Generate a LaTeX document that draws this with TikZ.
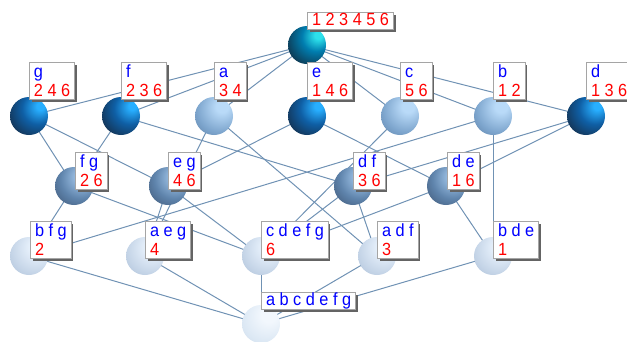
\documentclass[tikz,border=0pt]{standalone}
\usepackage{fontspec}
\usepackage{graphicx}
\setmainfont{Liberation Sans}
\usetikzlibrary{shadows}

% colours
\definecolor{edgecol}{RGB}{112,146,180}
\definecolor{framecol}{RGB}{165,165,165}
\definecolor{shadowcol}{RGB}{100,100,100}
\definecolor{intentcol}{RGB}{0,0,255}
\definecolor{extentcol}{RGB}{255,0,0}

% ball colours: highlight, middle, rim
\definecolor{topA}{RGB}{45,225,235}
\definecolor{topB}{RGB}{0,125,175}
\definecolor{topC}{RGB}{20,32,48}
\definecolor{attA}{RGB}{40,175,255}
\definecolor{attB}{RGB}{15,95,165}
\definecolor{attC}{RGB}{22,32,48}
\definecolor{lgtA}{RGB}{185,218,248}
\definecolor{lgtB}{RGB}{125,165,205}
\definecolor{lgtC}{RGB}{65,95,132}
\definecolor{midA}{RGB}{160,196,232}
\definecolor{midB}{RGB}{95,132,172}
\definecolor{midC}{RGB}{42,58,84}
\definecolor{palA}{RGB}{230,240,251}
\definecolor{palB}{RGB}{195,211,230}
\definecolor{palC}{RGB}{145,168,195}
\definecolor{botA}{RGB}{242,247,253}
\definecolor{botB}{RGB}{220,232,244}
\definecolor{botC}{RGB}{185,202,222}

\pgfdeclareradialshading{topball}{\pgfpoint{16bp}{14bp}}{color(0bp)=(topA); color(5bp)=(topA); color(19bp)=(topB); color(44bp)=(topC); color(80bp)=(topC)}
\pgfdeclareradialshading{attball}{\pgfpoint{16bp}{14bp}}{color(0bp)=(attA); color(5bp)=(attA); color(21bp)=(attB); color(46bp)=(attC); color(80bp)=(attC)}
\pgfdeclareradialshading{lgtball}{\pgfpoint{12bp}{14bp}}{color(0bp)=(lgtA); color(8bp)=(lgtA); color(30bp)=(lgtB); color(60bp)=(lgtC); color(80bp)=(lgtC)}
\pgfdeclareradialshading{midball}{\pgfpoint{12bp}{14bp}}{color(0bp)=(midA); color(6bp)=(midA); color(26bp)=(midB); color(56bp)=(midC); color(80bp)=(midC)}
\pgfdeclareradialshading{palball}{\pgfpoint{12bp}{14bp}}{color(0bp)=(palA); color(10bp)=(palA); color(32bp)=(palB); color(62bp)=(palC); color(80bp)=(palC)}
\pgfdeclareradialshading{botball}{\pgfpoint{12bp}{14bp}}{color(0bp)=(botA); color(10bp)=(botA); color(32bp)=(botB); color(62bp)=(botC); color(80bp)=(botC)}

\pgfdeclarelayer{edges}
\pgfsetlayers{edges,main}

\newcommand\lblfont{\fontsize{16.3}{19.5}\selectfont}
% label text, slightly taller than wide
\newcommand\lbltext[2]{\textcolor{#1}{\scalebox{1}[1.08]{#2}}}
% two-line label: intent on top, extent below
\newcommand\twoline[2]{{\def\arraystretch{0}\begin{tabular}{@{}l@{}}\rule[-4pt]{0pt}{18.5pt}\lbltext{intentcol}{#1}\\\rule[-3pt]{0pt}{18.5pt}\lbltext{extentcol}{#2}\end{tabular}}}
% one-line label
\newcommand\oneline[2]{\rule[-4.5pt]{0pt}{17pt}\lbltext{#1}{#2}}

\tikzset{
  ball/.style={circle, minimum size=38pt, inner sep=0pt},
  edge/.style={draw=edgecol, line width=1pt},
  lbl/.style={draw=framecol, fill=white, line width=1pt, anchor=north west,
    inner xsep=4.5pt, inner ysep=0pt, font=\lblfont,
    drop shadow={shadow xshift=2pt, shadow yshift=-2pt, fill=shadowcol, opacity=1}}
}

\begin{document}
\begin{tikzpicture}[x=1pt, y=-1pt]
\useasboundingbox (0,0) rectangle (627,341);

% concepts
\node[ball, shading=topball] (top) at (307,45) {};
\node[ball, shading=attball] (g) at (29,116) {};
\node[ball, shading=attball] (f) at (121,116) {};
\node[ball, shading=lgtball] (a) at (214,116) {};
\node[ball, shading=attball] (e) at (307,116) {};
\node[ball, shading=lgtball] (c) at (400,116) {};
\node[ball, shading=lgtball] (b) at (493,116) {};
\node[ball, shading=attball] (d) at (586,116) {};
\node[ball, shading=midball] (fg) at (74,186) {};
\node[ball, shading=midball] (eg) at (168,186) {};
\node[ball, shading=midball] (df) at (353,186) {};
\node[ball, shading=midball] (de) at (446,186) {};
\node[ball, shading=palball] (bfg) at (29,256) {};
\node[ball, shading=palball] (aeg) at (145,256) {};
\node[ball, shading=palball] (cdefg) at (261,256) {};
\node[ball, shading=palball] (adf) at (377,256) {};
\node[ball, shading=palball] (bde) at (493,256) {};
\node[ball, shading=botball] (bot) at (261,324) {};

% covering relations
\begin{pgfonlayer}{edges}
\foreach \u in {g,f,a,e,c,b,d} \draw[edge] (top.center) -- (\u.center);
\draw[edge] (g.center) -- (fg.center);
\draw[edge] (f.center) -- (fg.center);
\draw[edge] (g.center) -- (eg.center);
\draw[edge] (e.center) -- (eg.center);
\draw[edge] (f.center) -- (df.center);
\draw[edge] (d.center) -- (df.center);
\draw[edge] (e.center) -- (de.center);
\draw[edge] (d.center) -- (de.center);
\draw[edge] (fg.center) -- (bfg.center);
\draw[edge] (b.center) -- (bfg.center);
\draw[edge] (eg.center) -- (aeg.center);
\draw[edge] (a.center) -- (aeg.center);
\foreach \u in {fg,eg,df,de,c} \draw[edge] (\u.center) -- (cdefg.center);
\draw[edge] (df.center) -- (adf.center);
\draw[edge] (a.center) -- (adf.center);
\draw[edge] (de.center) -- (bde.center);
\draw[edge] (b.center) -- (bde.center);
\foreach \u in {bfg,aeg,cdefg,adf,bde} \draw[edge] (\u.center) -- (bot.center);
\end{pgfonlayer}

% labels
\node[lbl] (ltop) at (307,12) {\oneline{extentcol}{1 2 3 4 5 6}};
\node[lbl] (lg) at (29,62) {\twoline{g}{2 4 6}};
\node[lbl] (lf) at (121,62) {\twoline{f}{2 3 6}};
\node[lbl] (la) at (214,62) {\twoline{a}{3 4}};
\node[lbl] (le) at (307,62) {\twoline{e}{1 4 6}};
\node[lbl] (lc) at (400,62) {\twoline{c}{5 6}};
\node[lbl] (lb) at (493,62) {\twoline{b}{1 2}};
\node[lbl] (ld) at (586,62) {\twoline{d}{1 3 6}};
\node[lbl] (lfg) at (75,152) {\twoline{f g}{2 6}};
\node[lbl] (leg) at (168,152) {\twoline{e g}{4 6}};
\node[lbl] (ldf) at (353,152) {\twoline{d f}{3 6}};
\node[lbl] (lde) at (447,152) {\twoline{d e}{1 6}};
\node[lbl] (lbfg) at (30,221) {\twoline{b f g}{2}};
\node[lbl] (laeg) at (145,221) {\twoline{a e g}{4}};
\node[lbl] (lcdefg) at (261,221) {\twoline{c d e f g}{6}};
\node[lbl] (ladf) at (377,221) {\twoline{a d f}{3}};
\node[lbl] (lbde) at (493,221) {\twoline{b d e}{1}};
\node[lbl] (lbot) at (261,292) {\oneline{intentcol}{a b c d e f g}};
\end{tikzpicture}
\end{document}
